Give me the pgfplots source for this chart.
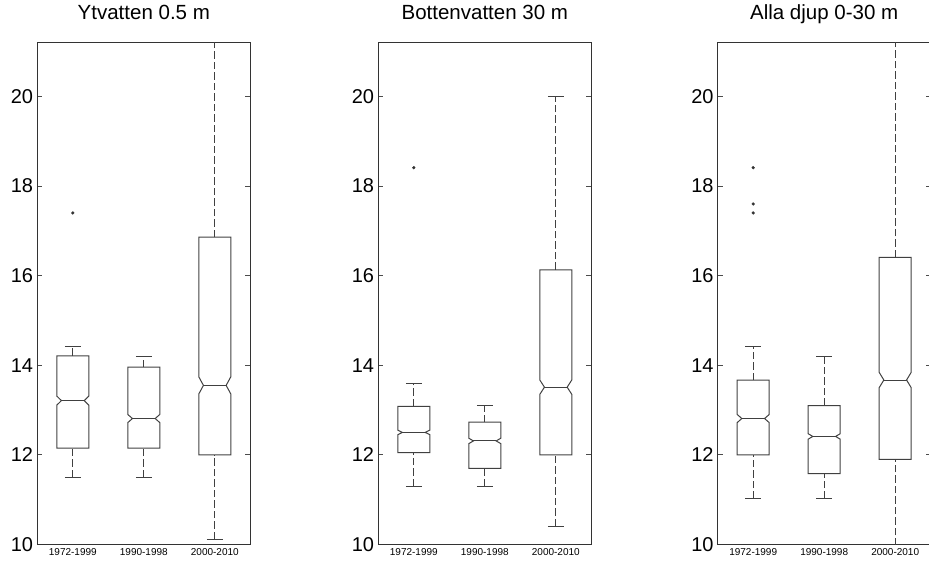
\documentclass[border=0pt]{standalone}
\usepackage{fontspec}
\setmainfont{Liberation Sans}
\usepackage{pgfplots}
\pgfplotsset{compat=1.18}

\pgfplotsset{
  mypanel/.style={
    scale only axis, width=213pt, height=501.7pt,
    anchor=south west,
    xmin=0.5, xmax=3.5, ymin=10, ymax=21.2,
    unbounded coords=jump,
    xtick={1,2,3}, xticklabels={1972-1999,1990-1998,2000-2010},
    ytick={10,12,14,16,18,20},
    tick align=inside, major tick length=5pt,
    xtick style={draw=none},
    ytick style={black!70, line width=1pt},
    axis line style={black!80, line width=1pt},
    /pgf/number format/assume math mode=true,
    yticklabel style={font=\fontsize{20}{24}\selectfont, inner sep=0pt, xshift=-4pt},
    xticklabel style={font=\fontsize{10}{12}\selectfont, inner sep=0pt, yshift=-3.5pt},
    title style={font=\fontsize{20.5}{24}\selectfont, at={(0.5,1)}, anchor=base, yshift=17pt},
  },
  bline/.style={black!75, line width=1pt, no marks, solid, line join=miter},
  wline/.style={black!75, line width=1pt, no marks, dash pattern=on 7.5pt off 3pt},
  outl/.style={only marks, mark=*, mark size=1.4pt, black!80},
}

\begin{document}
\begin{tikzpicture}
\path[use as bounding box] (0,0) rectangle (929pt,563pt);

% ---------------- Ytvatten 0.5 m ----------------
\begin{axis}[mypanel, at={(37.3pt,18.6pt)}, title={Ytvatten 0.5 m}]
% 1972-1999: lw 11.50, q1 12.15, med 13.21, q3 14.21, uw 14.41
\addplot[wline] coordinates {(1,11.50) (1,12.15) (1,nan) (1,14.21) (1,14.41)};
\addplot[bline] coordinates {(0.8875,11.50) (1.1125,11.50) (1,nan) (0.8875,14.41) (1.1125,14.41)};
\addplot[bline] coordinates {(0.775,12.15) (0.775,13.11) (0.84,13.21) (0.775,13.31) (0.775,14.21) (1.225,14.21) (1.225,13.31) (1.16,13.21) (1.225,13.11) (1.225,12.15) (0.775,12.15) (0.775,13.11)};
\addplot[bline] coordinates {(0.84,13.21) (1.16,13.21)};
\addplot[outl] coordinates {(1,17.40)};
% 1990-1998: lw 11.50, q1 12.15, med 12.81, q3 13.96, uw 14.20
\addplot[wline] coordinates {(2,11.50) (2,12.15) (2,nan) (2,13.96) (2,14.20)};
\addplot[bline] coordinates {(1.8875,11.50) (2.1125,11.50) (2,nan) (1.8875,14.20) (2.1125,14.20)};
\addplot[bline] coordinates {(1.775,12.15) (1.775,12.72) (1.84,12.81) (1.775,12.90) (1.775,13.96) (2.225,13.96) (2.225,12.90) (2.16,12.81) (2.225,12.72) (2.225,12.15) (1.775,12.15) (1.775,12.72)};
\addplot[bline] coordinates {(1.84,12.81) (2.16,12.81)};
% 2000-2010: lw 10.12, q1 12.00, med 13.55, q3 16.86, uw above 21.2
\addplot[wline] coordinates {(3,10.12) (3,12.00) (3,nan) (3,16.86) (3,22.00)};
\addplot[bline] coordinates {(2.8875,10.12) (3.1125,10.12)};
\addplot[bline] coordinates {(2.775,12.00) (2.775,13.36) (2.84,13.55) (2.775,13.74) (2.775,16.86) (3.225,16.86) (3.225,13.74) (3.16,13.55) (3.225,13.36) (3.225,12.00) (2.775,12.00) (2.775,13.36)};
\addplot[bline] coordinates {(2.84,13.55) (3.16,13.55)};
\end{axis}

% ---------------- Bottenvatten 30 m ----------------
\begin{axis}[mypanel, at={(378.3pt,18.6pt)}, title={Bottenvatten 30 m}]
% 1972-1999: lw 11.30, q1 12.05, med 12.50, q3 13.08, uw 13.60
\addplot[wline] coordinates {(1,11.30) (1,12.05) (1,nan) (1,13.08) (1,13.60)};
\addplot[bline] coordinates {(0.8875,11.30) (1.1125,11.30) (1,nan) (0.8875,13.60) (1.1125,13.60)};
\addplot[bline] coordinates {(0.775,12.05) (0.775,12.45) (0.84,12.50) (0.775,12.55) (0.775,13.08) (1.225,13.08) (1.225,12.55) (1.16,12.50) (1.225,12.45) (1.225,12.05) (0.775,12.05) (0.775,12.45)};
\addplot[bline] coordinates {(0.84,12.50) (1.16,12.50)};
\addplot[outl] coordinates {(1,18.41)};
% 1990-1998: lw 11.30, q1 11.70, med 12.31, q3 12.73, uw 13.09
\addplot[wline] coordinates {(2,11.30) (2,11.70) (2,nan) (2,12.73) (2,13.09)};
\addplot[bline] coordinates {(1.8875,11.30) (2.1125,11.30) (2,nan) (1.8875,13.09) (2.1125,13.09)};
\addplot[bline] coordinates {(1.775,11.70) (1.775,12.25) (1.84,12.31) (1.775,12.37) (1.775,12.73) (2.225,12.73) (2.225,12.37) (2.16,12.31) (2.225,12.25) (2.225,11.70) (1.775,11.70) (1.775,12.25)};
\addplot[bline] coordinates {(1.84,12.31) (2.16,12.31)};
% 2000-2010: lw 10.41, q1 12.00, med 13.51, q3 16.13, uw 20.00
\addplot[wline] coordinates {(3,10.41) (3,12.00) (3,nan) (3,16.13) (3,20.00)};
\addplot[bline] coordinates {(2.8875,10.41) (3.1125,10.41) (3,nan) (2.8875,20.00) (3.1125,20.00)};
\addplot[bline] coordinates {(2.775,12.00) (2.775,13.35) (2.84,13.51) (2.775,13.67) (2.775,16.13) (3.225,16.13) (3.225,13.67) (3.16,13.51) (3.225,13.35) (3.225,12.00) (2.775,12.00) (2.775,13.35)};
\addplot[bline] coordinates {(2.84,13.51) (3.16,13.51)};
\end{axis}

% ---------------- Alla djup 0-30 m ----------------
\begin{axis}[mypanel, at={(717.7pt,18.6pt)}, title={Alla djup 0-30 m}]
% 1972-1999: lw 11.02, q1 12.00, med 12.81, q3 13.67, uw 14.41
\addplot[wline] coordinates {(1,11.02) (1,12.00) (1,nan) (1,13.67) (1,14.41)};
\addplot[bline] coordinates {(0.8875,11.02) (1.1125,11.02) (1,nan) (0.8875,14.41) (1.1125,14.41)};
\addplot[bline] coordinates {(0.775,12.00) (0.775,12.72) (0.84,12.81) (0.775,12.90) (0.775,13.67) (1.225,13.67) (1.225,12.90) (1.16,12.81) (1.225,12.72) (1.225,12.00) (0.775,12.00) (0.775,12.72)};
\addplot[bline] coordinates {(0.84,12.81) (1.16,12.81)};
\addplot[outl] coordinates {(1,18.41) (1,17.60) (1,17.40)};
% 1990-1998: lw 11.02, q1 11.58, med 12.41, q3 13.10, uw 14.20
\addplot[wline] coordinates {(2,11.02) (2,11.58) (2,nan) (2,13.10) (2,14.20)};
\addplot[bline] coordinates {(1.8875,11.02) (2.1125,11.02) (2,nan) (1.8875,14.20) (2.1125,14.20)};
\addplot[bline] coordinates {(1.775,11.58) (1.775,12.35) (1.84,12.41) (1.775,12.47) (1.775,13.10) (2.225,13.10) (2.225,12.47) (2.16,12.41) (2.225,12.35) (2.225,11.58) (1.775,11.58) (1.775,12.35)};
\addplot[bline] coordinates {(1.84,12.41) (2.16,12.41)};
% 2000-2010: lw below 10, q1 11.90, med 13.67, q3 16.41, uw above 21.2
\addplot[wline] coordinates {(3,9.50) (3,11.90) (3,nan) (3,16.41) (3,22.00)};
\addplot[bline] coordinates {(2.775,11.90) (2.775,13.50) (2.84,13.67) (2.775,13.84) (2.775,16.41) (3.225,16.41) (3.225,13.84) (3.16,13.67) (3.225,13.50) (3.225,11.90) (2.775,11.90) (2.775,13.50)};
\addplot[bline] coordinates {(2.84,13.67) (3.16,13.67)};
\end{axis}
\end{tikzpicture}
\end{document}
